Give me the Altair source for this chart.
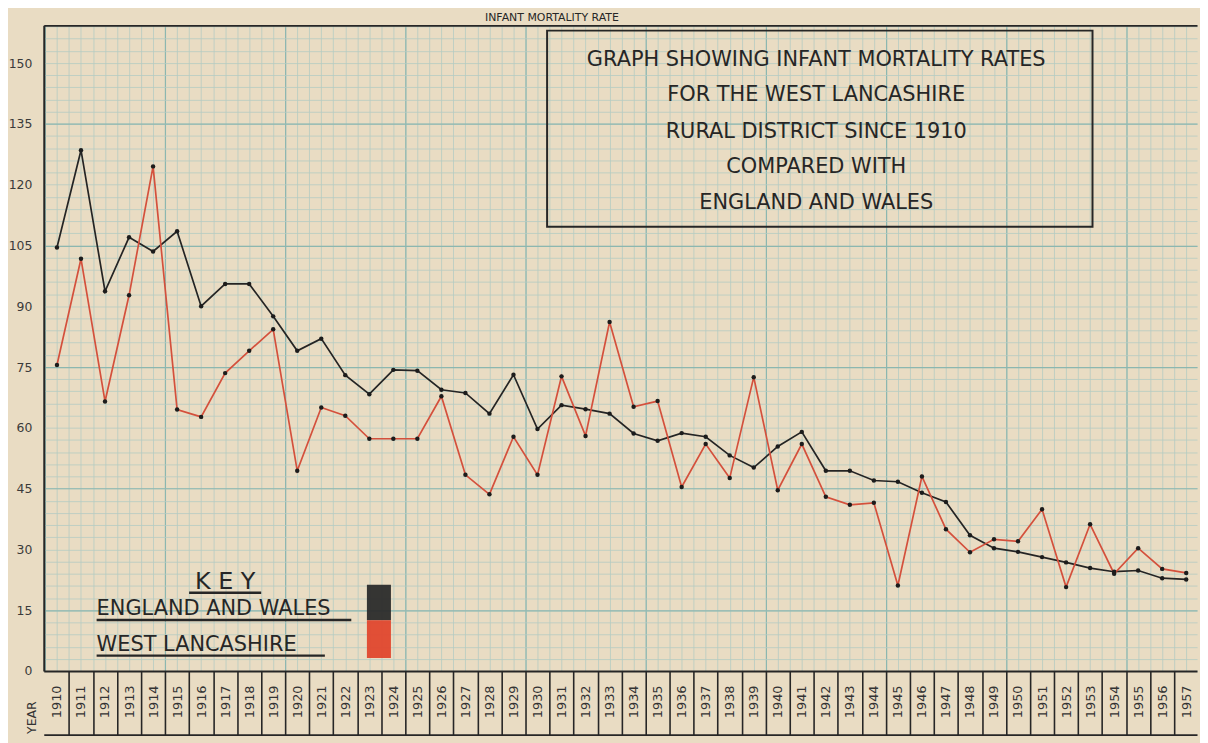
import altair as alt
import pandas as pd

# ---------------- data ----------------
years = list(range(1910, 1958))

england_wales = [
    104.5, 128.5, 93.7, 107.0, 103.5, 108.5, 90.0, 95.5, 95.5, 87.5,
    79.0, 82.0, 73.0, 68.3, 74.3, 74.1, 69.4, 68.6, 63.5, 73.1,
    59.7, 65.6, 64.6, 63.5, 58.6, 56.8, 58.7, 57.8, 53.2, 50.2,
    55.4, 59.0, 49.4, 49.4, 47.0, 46.7, 44.0, 41.7, 33.5, 30.3,
    29.4, 28.1, 26.8, 25.4, 24.5, 24.8, 22.9, 22.6,
]

west_lancashire = [
    75.5, 101.7, 66.5, 92.7, 124.5, 64.5, 62.7, 73.5, 79.0, 84.3,
    49.4, 65.0, 63.0, 57.3, 57.3, 57.3, 67.8, 48.4, 43.6, 57.8,
    48.4, 72.7, 58.0, 86.1, 65.2, 66.6, 45.4, 56.0, 47.6, 72.5,
    44.6, 56.0, 43.0, 41.0, 41.5, 21.1, 48.0, 35.0, 29.3, 32.5,
    32.0, 39.9, 20.7, 36.2, 24.0, 30.3, 25.2, 24.2,
]

series_names = ["England and Wales", "West Lancashire"]
series_colors = ["#242424", "#d4503c"]

y_tick_values = [0, 15, 30, 45, 60, 75, 90, 105, 120, 135, 150]

title_lines = [
    "GRAPH SHOWING INFANT MORTALITY RATES",
    "FOR THE WEST LANCASHIRE",
    "RURAL DISTRICT SINCE 1910",
    "COMPARED WITH",
    "ENGLAND AND WALES",
]
title_line_rates = [150.7, 142.2, 133.1, 124.3, 115.4]
title_center_year = 1941.6
title_box_years = [1930.4, 1953.1]
title_box_rates = [109.6, 158.0]

top_caption = "INFANT MORTALITY RATE"
top_caption_pos = [1930.6, 159.8]

key_heading = "K E Y"
key_heading_pos = [1917.0, 20.3]
key_heading_rule = [1915.5, 1918.5, 19.3]
key_labels = ["ENGLAND AND WALES", "WEST LANCASHIRE"]
key_label_year = 1911.65
key_label_rates = [13.8, 5.0]
key_rule_ends = [1922.25, 1921.15]
key_rule_rates = [12.6, 3.8]
key_swatch_years = [1922.9, 1923.9]
key_swatch_top = [21.3, 12.5]
key_swatch_bottom = [12.5, 3.2]

year_word = "YEAR"
year_word_pos = [1908.95, -11.5]

# ---------------- styling ----------------
PAPER = "#e9dcc3"
MINOR = "#b4cbc2"
MAJOR = "#8cb7b0"
INK = "#262626"
FONT = "DejaVu Sans"

X_DOMAIN = [1909.45, 1957.45]
Y_DOMAIN = [0, 159.3]
xs = alt.Scale(domain=X_DOMAIN, nice=False, zero=False)
ys = alt.Scale(domain=Y_DOMAIN, nice=False, zero=False)

lines_df = pd.DataFrame({
    "year": years * 2,
    "rate": england_wales + west_lancashire,
    "series": [series_names[0]] * len(years) + [series_names[1]] * len(years),
})

minor_x = [1909.5 + 0.5 * i for i in range(97)]
major_x = [1909.5 + 5 * i for i in range(10)]
minor_y = [3 * i for i in range(54)]
major_y = [15, 45, 75, 105, 135]
box_sep = [y + 0.5 for y in years[:-1]]


def axis_layer(xaxis, yaxis):
    return alt.Chart(lines_df).mark_point(opacity=0).encode(
        x=alt.X("year:Q", scale=xs, axis=xaxis),
        y=alt.Y("rate:Q", scale=ys, axis=yaxis),
    )


minor_grid = axis_layer(
    alt.Axis(orient="bottom", values=minor_x, title=None, labels=False, ticks=False,
             domain=False, grid=True, gridColor=MINOR, gridWidth=0.8),
    alt.Axis(orient="left", values=minor_y, title=None, labels=False, ticks=False,
             domain=False, grid=True, gridColor=MINOR, gridWidth=0.8),
)
major_grid = axis_layer(
    alt.Axis(orient="bottom", values=major_x, title=None, labels=False, ticks=False,
             domain=False, grid=True, gridColor=MAJOR, gridWidth=1.2),
    alt.Axis(orient="left", values=major_y, title=None, labels=False, ticks=False,
             domain=False, grid=True, gridColor=MAJOR, gridWidth=1.2),
)
box_lines = axis_layer(
    alt.Axis(orient="bottom", values=box_sep, title=None, labels=False, ticks=True,
             tickSize=64, tickColor=INK, tickWidth=1.6, domain=False, grid=False),
    None,
)
box_bottom = axis_layer(
    alt.Axis(orient="bottom", offset=64, title=None, labels=False, ticks=False,
             domain=True, domainColor=INK, domainWidth=1.8, grid=False),
    None,
)
top_border = axis_layer(
    alt.Axis(orient="top", title=None, labels=False, ticks=False,
             domain=True, domainColor=INK, domainWidth=1.8, grid=False),
    None,
)
label_axes = axis_layer(
    alt.Axis(orient="bottom", values=years, format="d", title=None, labelAngle=270,
             labelAlign="right", labelBaseline="middle", labelPadding=14,
             labelFontSize=13, labelFont=FONT, labelColor="#333333",
             labelOverlap=False, labelFlush=False, ticks=False, tickSize=0,
             domain=True, domainColor=INK, domainWidth=2, grid=False, zindex=1),
    alt.Axis(orient="left", values=y_tick_values, title=None, labelPadding=12,
             labelFontSize=12.5, labelFont=FONT, labelColor="#3a3a3a",
             labelOverlap=False, labelFlush=False, ticks=False, tickSize=0,
             domain=True, domainColor=INK, domainWidth=2, grid=False, zindex=1),
)

lines = alt.Chart(lines_df).mark_line(strokeWidth=1.7).encode(
    x=alt.X("year:Q", scale=xs, axis=None),
    y=alt.Y("rate:Q", scale=ys, axis=None),
    color=alt.Color("series:N", scale=alt.Scale(domain=series_names, range=series_colors),
                    legend=None),
    detail="series:N",
)
dots = alt.Chart(lines_df).mark_circle(size=20, color="#1c1c1c", opacity=1).encode(
    x=alt.X("year:Q", scale=xs, axis=None),
    y=alt.Y("rate:Q", scale=ys, axis=None),
)

# title box
box_df = pd.DataFrame({"x": [title_box_years[0]], "x2": [title_box_years[1]],
                       "y": [title_box_rates[0]], "y2": [title_box_rates[1]]})
title_box = alt.Chart(box_df).mark_rect(filled=False, color=INK, strokeWidth=2).encode(
    x=alt.X("x:Q", scale=xs, axis=None), x2="x2:Q",
    y=alt.Y("y:Q", scale=ys, axis=None), y2="y2:Q",
)
title_df = pd.DataFrame({"text": title_lines, "y": title_line_rates,
                         "x": [title_center_year] * len(title_lines)})
title_text = alt.Chart(title_df).mark_text(font=FONT, fontSize=21, color=INK,
                                           align="center", baseline="middle").encode(
    x=alt.X("x:Q", scale=xs, axis=None),
    y=alt.Y("y:Q", scale=ys, axis=None),
    text="text:N",
)

cap_df = pd.DataFrame({"text": [top_caption], "x": [top_caption_pos[0]], "y": [top_caption_pos[1]]})
caption = alt.Chart(cap_df).mark_text(font=FONT, fontSize=11, color=INK,
                                      align="center", baseline="bottom").encode(
    x=alt.X("x:Q", scale=xs, axis=None),
    y=alt.Y("y:Q", scale=ys, axis=None),
    text="text:N",
)

# key
kh_df = pd.DataFrame({"text": [key_heading], "x": [key_heading_pos[0]], "y": [key_heading_pos[1]]})
key_head = alt.Chart(kh_df).mark_text(font=FONT, fontSize=24, color=INK,
                                      align="center", baseline="alphabetic").encode(
    x=alt.X("x:Q", scale=xs, axis=None),
    y=alt.Y("y:Q", scale=ys, axis=None),
    text="text:N",
)
kl_df = pd.DataFrame({"text": key_labels, "x": [key_label_year] * 2, "y": key_label_rates})
key_text = alt.Chart(kl_df).mark_text(font=FONT, fontSize=21, color=INK,
                                      align="left", baseline="alphabetic").encode(
    x=alt.X("x:Q", scale=xs, axis=None),
    y=alt.Y("y:Q", scale=ys, axis=None),
    text="text:N",
)
rules_df = pd.DataFrame({
    "x": [key_heading_rule[0], key_label_year, key_label_year],
    "x2": [key_heading_rule[1]] + key_rule_ends,
    "y": [key_heading_rule[2]] + key_rule_rates,
})
key_rules = alt.Chart(rules_df).mark_rule(color=INK, strokeWidth=2.4).encode(
    x=alt.X("x:Q", scale=xs, axis=None), x2="x2:Q",
    y=alt.Y("y:Q", scale=ys, axis=None),
)
sw_df = pd.DataFrame({"series": series_names,
                      "x": [key_swatch_years[0]] * 2, "x2": [key_swatch_years[1]] * 2,
                      "y": key_swatch_top, "y2": key_swatch_bottom})
swatches = alt.Chart(sw_df).mark_rect(opacity=0.95).encode(
    x=alt.X("x:Q", scale=xs, axis=None), x2="x2:Q",
    y=alt.Y("y:Q", scale=ys, axis=None), y2="y2:Q",
    color=alt.Color("series:N", scale=alt.Scale(domain=series_names,
                                                range=["#2b2b2b", "#e0472e"]),
                    legend=None),
)

yw_df = pd.DataFrame({"text": [year_word], "x": [year_word_pos[0]], "y": [year_word_pos[1]]})
year_word_mark = alt.Chart(yw_df).mark_text(font=FONT, fontSize=12.5, color="#333333",
                                            angle=270, align="center", baseline="middle").encode(
    x=alt.X("x:Q", scale=xs, axis=None),
    y=alt.Y("y:Q", scale=ys, axis=None),
    text="text:N",
)

chart = alt.layer(
    minor_grid, major_grid, box_lines, box_bottom, top_border, label_axes,
    title_box, title_text, caption, key_rules, key_head, key_text, swatches,
    year_word_mark, lines, dots,
).resolve_axis(x="independent", y="independent").resolve_scale(
    color="independent"
).properties(
    width=1161, height=650,
    autosize=alt.AutoSizeParams(type="none"),
    padding={"left": 36, "top": 15, "right": 3, "bottom": 70},
    background=PAPER,
).configure_view(stroke=None)

chart.save("out.html", embed_options={"renderer": "svg", "actions": False})
